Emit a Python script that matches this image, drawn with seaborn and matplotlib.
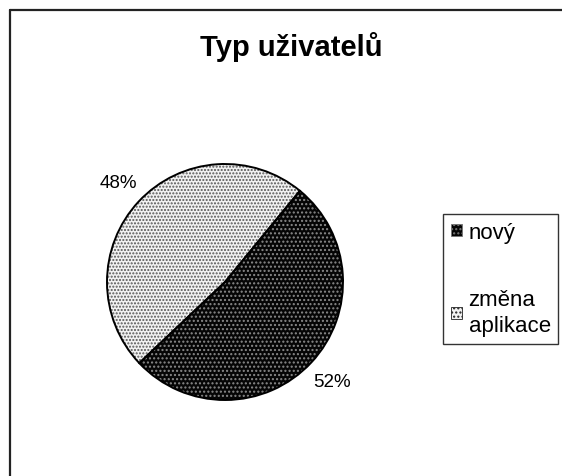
import matplotlib
matplotlib.use('Agg')
import matplotlib.pyplot as plt
import matplotlib.patches as mpatches
from matplotlib.lines import Line2D
import seaborn as sns

# -----------------------------------------------------
# Data
# -----------------------------------------------------
title = 'Typ uživatelů'
categories = ['nový', 'změna aplikace']
legend_labels = ['nový', 'změna\naplikace']
values = [52, 48]

sns.set_theme(style='white')
plt.rcParams['font.family'] = ['Liberation Sans', 'DejaVu Sans']
plt.rcParams['text.color'] = 'black'
plt.rcParams['hatch.linewidth'] = 1.0

face_cols = ['#050505', '#f2f2f2']
dot_cols = ['#8a8a8a', '#555555']

W, H = 562, 477
fig = plt.figure(figsize=(W / 100, H / 100), dpi=100)
fig.patch.set_facecolor('white')

# pie area: centre (225, 283) px, radius 118 px
cx, cy, r = 225, 283, 118
ax = fig.add_axes([(cx - r) / W, (H - cy - r) / H, 2 * r / W, 2 * r / H])

wedges, _, pct = ax.pie(values, startangle=50.6, counterclock=False,
                        colors=face_cols, autopct='%.0f%%', pctdistance=1.24,
                        wedgeprops=dict(linewidth=0),
                        textprops=dict(fontsize=13.5, color='black'))
for w, dc, h in zip(wedges, dot_cols, ['....', '.....']):
    w.set_hatch(h)
    w.set_edgecolor(dc)

# outline on top
ax.pie(values, startangle=50.6, counterclock=False,
       wedgeprops=dict(fill=False, edgecolor='black', linewidth=1.4))
ax.set_xlim(-1, 1)
ax.set_ylim(-1, 1)
ax.set_aspect('equal')

# title
fig.text(291 / W, 1 - 56 / H, title, ha='center', va='baseline',
         fontsize=21, fontweight='bold', color='black')

# legend
handles = [mpatches.Patch(facecolor=fc, edgecolor=ec, hatch='....', linewidth=0.6)
           for fc, ec in zip(face_cols, ['#777777', '#222222'])]
leg = fig.legend(handles, legend_labels, loc='upper left',
                 bbox_to_anchor=(443 / W, 1 - 215 / H),
                 frameon=True, fancybox=False, framealpha=1,
                 edgecolor='#333333', fontsize=16,
                 handlelength=0.5, handleheight=0.5, handletextpad=0.3,
                 labelspacing=2.1, borderpad=0.35, borderaxespad=0)
leg.get_frame().set_linewidth(1.0)
for t in leg.get_texts():
    t.set_color('black')
    t.set_linespacing(1.3)

# chart area border (left and top visible)
fig.add_artist(Line2D([10 / W, 10 / W], [0, 1 - 11 / H], transform=fig.transFigure,
                      color='#222222', linewidth=1.6))
fig.add_artist(Line2D([10 / W, 1], [1 - 11 / H, 1 - 11 / H], transform=fig.transFigure,
                      color='#222222', linewidth=1.6))

fig.savefig('out.png', dpi=100)
